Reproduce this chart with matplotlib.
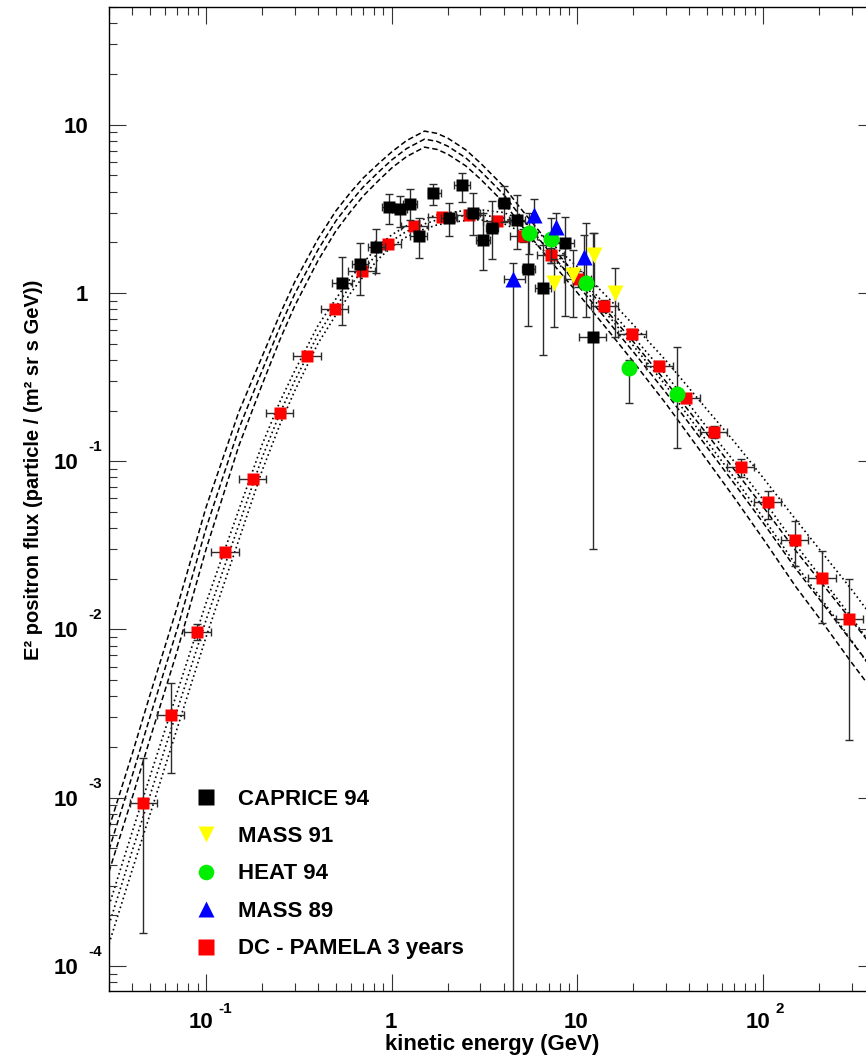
import numpy as np
import matplotlib.pyplot as plt
from matplotlib import transforms
from matplotlib.lines import Line2D

plt.rcParams['font.family'] = ['Liberation Sans', 'DejaVu Sans']
plt.rcParams['font.weight'] = 'bold'

# model curves (E^2 flux) on a common energy grid, GeV
curve_e = [0.03, 0.04, 0.05, 0.07, 0.1, 0.15, 0.2, 0.25, 0.3, 0.4, 0.5, 0.6, 0.7, 0.85,
           1.0, 1.2, 1.5, 1.75, 2, 2.5, 3, 4, 5, 7,
           10, 15, 20, 30, 50, 70, 100, 150, 200, 300, 400]
dashed_up = [6.62e-4, 1.82e-3, 4.12e-3, 1.365e-2, 0.0533, 0.196, 0.417, 0.747, 1.161, 2.088,
             3.073, 3.959, 4.807, 5.88, 6.886, 8.035, 9.151, 8.872, 8.314, 7.087, 5.915, 4.297,
             3.125, 1.983, 1.245, 0.740, 0.512, 0.296, 0.1441, 0.0888,
             0.0535, 0.0293, 0.0197, 0.01125, 7.57e-3]
dashed_mid = [4.90e-4, 1.35e-3, 3.05e-3, 1.01e-2, 0.040, 0.1555, 0.344, 0.628, 0.986, 1.80,
              2.679, 3.473, 4.25, 5.236, 6.17, 7.2, 8.2, 7.95, 7.45, 6.35, 5.3, 3.85,
              2.8, 1.777, 1.116, 0.654, 0.446, 0.2546, 0.1206, 0.0733,
              0.0430, 0.0229, 0.0152, 8.44e-3, 5.60e-3]
dashed_lo = [3.63e-4, 1.0e-3, 2.26e-3, 7.48e-3, 0.030, 0.1232, 0.284, 0.528, 0.837, 1.552,
             2.336, 3.046, 3.758, 4.662, 5.529, 6.452, 7.348, 7.124, 6.676, 5.69, 4.749, 3.45,
             2.509, 1.592, 1.0, 0.578, 0.389, 0.219, 0.1009, 0.0605,
             0.0345, 0.0179, 0.01172, 6.33e-3, 4.15e-3]
dotted_up = [2.28e-4, 6.26e-4, 1.349e-3, 4.26e-3, 0.01439, 0.0513, 0.125, 0.2262, 0.344, 0.638,
             0.922, 1.225, 1.507, 1.907, 2.215, 2.501, 2.75, 2.906, 2.99, 3.09, 3.12, 3.004,
             2.715, 2.036, 1.427, 0.908, 0.6455, 0.395, 0.2017, 0.1302,
             0.0796, 0.0448, 0.0301, 0.0172, 0.01124]
dotted_mid = [1.757e-4, 4.83e-4, 1.04e-3, 3.33e-3, 0.0114, 0.0418, 0.1046, 0.1933, 0.300, 0.565,
              0.826, 1.106, 1.37, 1.745, 2.04, 2.32, 2.57, 2.713, 2.79, 2.885, 2.91, 2.787,
              2.50, 1.851, 1.279, 0.792, 0.548, 0.326, 0.1577, 0.0990,
              0.0589, 0.0318, 0.0211, 0.01172, 7.56e-3]
dotted_lo = [1.355e-4, 3.72e-4, 8.02e-4, 2.60e-3, 9.03e-3, 0.0340, 0.0875, 0.1652, 0.2615, 0.500,
             0.740, 0.998, 1.245, 1.596, 1.878, 2.152, 2.40, 2.533, 2.605, 2.694, 2.72, 2.585,
             2.30, 1.683, 1.163, 0.710, 0.4845, 0.2805, 0.1302, 0.0795,
             0.0461, 0.0242, 0.01583, 8.55e-3, 5.44e-3]

# DC - PAMELA 3 years
pamela_e = [0.0459, 0.0644, 0.0896, 0.126, 0.178, 0.249, 0.348, 0.493, 0.689, 0.95, 1.31, 1.87,
            2.61, 3.67, 5.10, 7.17, 10.1, 13.95, 19.7, 27.5, 38.5, 54, 75.5, 105.5, 147.5, 207, 291]
pamela_edges = [0.0387, 0.0544, 0.0760, 0.1063, 0.1498, 0.2105, 0.2944, 0.4142, 0.5828, 0.809,
                1.1156, 1.565, 2.209, 3.095, 4.326, 6.047, 8.51, 11.87, 16.58, 23.28, 32.5,
                45.6, 63.9, 89.2, 124.7, 174.7, 245.4, 343]
pamela_f = [9.3e-4, 3.08e-3, 9.7e-3, 0.0288, 0.0785, 0.194, 0.422, 0.80, 1.35, 1.96, 2.50, 2.84,
            2.91, 2.68, 2.19, 1.67, 1.21, 0.84, 0.569, 0.368, 0.237, 0.149, 0.092, 0.0568, 0.034,
            0.0202, 0.01156]
pamela_flo = [1.57e-4, 1.41e-3, 8.7e-3, 0.0272, 0.075, 0.186, 0.405, 0.77, 1.30, 1.89, 2.40, 2.72,
              2.75, 2.52, 2.0, 1.50, 1.08, 0.77, 0.53, 0.345, 0.222, 0.137, 0.081, 0.0456, 0.0239,
              0.0109, 0.0022]
pamela_fhi = [1.73e-3, 4.8e-3, 0.0108, 0.0305, 0.082, 0.202, 0.44, 0.83, 1.40, 2.03, 2.60, 2.96,
              3.08, 2.85, 2.4, 1.85, 1.35, 0.91, 0.61, 0.392, 0.252, 0.161, 0.1036, 0.0669, 0.044,
              0.0293, 0.0199]

# CAPRICE 94
caprice_e = [0.54, 0.678, 0.827, 0.967, 1.11, 1.26, 1.40, 1.66, 2.03, 2.39, 2.73, 3.11, 3.47,
             4.02, 4.74, 5.41, 6.52, 8.56, 12.1]
caprice_elo = [0.478, 0.61, 0.745, 0.89, 1.0, 1.15, 1.26, 1.56, 1.85, 2.15, 2.5, 2.85, 3.2,
               3.75, 4.3, 5.0, 5.9, 7.6, 10.2]
caprice_ehi = [0.61, 0.745, 0.92, 1.06, 1.2, 1.37, 1.55, 1.83, 2.25, 2.65, 3.0, 3.4, 3.75,
               4.3, 5.2, 5.9, 7.2, 9.6, 14.3]
caprice_f = [1.14, 1.49, 1.87, 3.23, 3.16, 3.37, 2.19, 3.91, 2.78, 4.36, 2.97, 2.05, 2.42,
             3.41, 2.72, 1.395, 1.07, 1.99, 0.546]
caprice_flo = [0.645, 0.97, 1.31, 2.57, 2.48, 2.71, 1.61, 3.33, 2.18, 3.49, 2.21, 1.37, 1.59,
               2.62, 1.82, 0.637, 0.428, 0.73, 0.030]
caprice_fhi = [1.64, 1.99, 2.41, 3.87, 3.77, 4.13, 2.78, 4.42, 3.41, 5.19, 3.94, 3.0, 3.54,
               4.32, 3.82, 2.07, 1.93, 2.82, 2.26]

# MASS 91
mass91_e = [7.47, 9.42, 12.2, 15.9]
mass91_f = [1.14, 1.28, 1.67, 1.0]
mass91_flo = [0.63, 0.72, 1.1, 0.55]
mass91_fhi = [1.6, 1.8, 2.27, 1.41]

# HEAT 94
heat94_e = [5.46, 7.17, 11.1, 18.96, 34.3]
heat94_f = [2.28, 2.08, 1.14, 0.358, 0.25]
heat94_flo = [1.7, 1.5, 0.72, 0.223, 0.12]
heat94_fhi = [3.0, 2.8, 2.6, 0.40, 0.48]

# MASS 89
mass89_e = [4.51, 5.85, 7.66, 10.8]
mass89_elo = [4.0, 5.85, 7.66, 10.8]
mass89_ehi = [5.2, 5.85, 7.66, 10.8]
mass89_f = [1.21, 2.91, 2.46, 1.64]
mass89_flo = [1e-6, 2.3, 2.0, 1.2]
mass89_fhi = [1.5, 3.6, 3.0, 2.2]

x_ticks = [0.1, 1, 10, 100]
x_tick_base = ['10', '1', '10', '10']
x_tick_exp = ['-1', '', '', '2']
y_ticks = [1e-4, 1e-3, 1e-2, 1e-1, 1, 10]
y_tick_base = ['10', '10', '10', '10', '1', '10']
y_tick_exp = ['-4', '-3', '-2', '-1', '', '']


def asym(v, lo, hi):
    v, lo, hi = np.asarray(v), np.asarray(lo), np.asarray(hi)
    return [v - lo, hi - v]


fig = plt.figure(figsize=(8.66, 10.62), dpi=100)
ax = fig.add_axes([109 / 866, 71 / 1062, 766 / 866, 984 / 1062])
ax.set_xscale('log')
ax.set_yscale('log')
ax.set_xlim(0.03, 400)
ax.set_ylim(7.1e-5, 50)

# model curves
for f in (dashed_up, dashed_mid, dashed_lo):
    ax.plot(curve_e, f, color='black', lw=1.1, ls=(0, (3.6, 2.0)), zorder=1)
for f in (dotted_up, dotted_mid, dotted_lo):
    ax.plot(curve_e, f, color='black', lw=1.2, ls=(0, (1.0, 1.8)), zorder=1)

ekw = dict(ecolor='#2b2b2b', elinewidth=1.0, capsize=2.7, capthick=1.0, ls='none', mec='none')

edges = np.asarray(pamela_edges)
ax.errorbar(pamela_e, pamela_f, xerr=asym(pamela_e, edges[:-1], edges[1:]),
            yerr=asym(pamela_f, pamela_flo, pamela_fhi),
            marker='s', ms=8.3, color='#ff0000', zorder=3, **ekw)
ax.errorbar(caprice_e, caprice_f, xerr=asym(caprice_e, caprice_elo, caprice_ehi),
            yerr=asym(caprice_f, caprice_flo, caprice_fhi),
            marker='s', ms=8.3, color='black', zorder=4, **ekw)
ax.errorbar(mass91_e, mass91_f, yerr=asym(mass91_f, mass91_flo, mass91_fhi),
            marker='v', ms=11.5, color='#ffff00', zorder=5, **ekw)
ax.errorbar(heat94_e, heat94_f, yerr=asym(heat94_f, heat94_flo, heat94_fhi),
            marker='o', ms=11.5, color='#00ee00', zorder=5, **ekw)
ax.errorbar(mass89_e, mass89_f, xerr=asym(mass89_e, mass89_elo, mass89_ehi),
            yerr=asym(mass89_f, mass89_flo, mass89_fhi),
            marker='^', ms=11.5, color='#0000ff', zorder=5, **ekw)

# frame and ticks, ROOT style
for s in ax.spines.values():
    s.set_linewidth(1.0)
ax.tick_params(which='both', direction='in', top=True, right=True,
               labelbottom=False, labelleft=False, width=0.8, color='#333333')
ax.tick_params(which='major', length=12.2)
ax.tick_params(which='minor', length=5.8)

xtr = transforms.blended_transform_factory(ax.transData, ax.transAxes)
for v, b, e in zip(x_ticks, x_tick_base, x_tick_exp):
    if e:
        ax.text(v, 0, b, ha='right', va='baseline', fontsize=16,
                transform=transforms.offset_copy(xtr, fig, x=7, y=-37, units='dots'))
        ax.text(v, 0, e, ha='left', va='baseline', fontsize=11,
                transform=transforms.offset_copy(xtr, fig, x=12, y=-22, units='dots'))
    else:
        ax.text(v, 0, b, ha='center', va='baseline', fontsize=16,
                transform=transforms.offset_copy(xtr, fig, x=-1, y=-37, units='dots'))

ytr = transforms.blended_transform_factory(ax.transAxes, ax.transData)
for v, b, e in zip(y_ticks, y_tick_base, y_tick_exp):
    if e:
        ax.text(0, v, b, ha='right', va='baseline', fontsize=16,
                transform=transforms.offset_copy(ytr, fig, x=-31, y=-8, units='dots'))
        ax.text(0, v, e, ha='left', va='baseline', fontsize=11,
                transform=transforms.offset_copy(ytr, fig, x=-21, y=10, units='dots'))
    else:
        ax.text(0, v, b, ha='right', va='baseline', fontsize=16,
                transform=transforms.offset_copy(ytr, fig, x=-21, y=-8, units='dots'))

ax.set_xlabel('kinetic energy (GeV)', fontsize=16, fontweight='bold', va='baseline')
ax.xaxis.set_label_coords(0.5, -0.060)
ax.set_ylabel('E\u00b2 positron flux (particle / (m\u00b2 sr s GeV))', fontsize=14.5,
              fontweight='bold', va='baseline')
ax.yaxis.set_label_coords(-0.092, 0.530)

handles = [Line2D([], [], ls='none', marker='s', ms=11.2, color='black', mec='none'),
           Line2D([], [], ls='none', marker='v', ms=11.2, color='#ffff00', mec='none'),
           Line2D([], [], ls='none', marker='o', ms=11.2, color='#00ee00', mec='none'),
           Line2D([], [], ls='none', marker='^', ms=11.2, color='#0000ff', mec='none'),
           Line2D([], [], ls='none', marker='s', ms=11.2, color='#ff0000', mec='none')]
labels = ['CAPRICE 94', 'MASS 91', 'HEAT 94', 'MASS 89', 'DC - PAMELA 3 years']
ax.legend(handles, labels, loc='upper left', bbox_to_anchor=(0.1123, 0.2057),
          frameon=False, fontsize=16, handlelength=1.0, handletextpad=0.95,
          labelspacing=0.74, borderaxespad=0, borderpad=0)

fig.savefig('out.png', dpi=100)
